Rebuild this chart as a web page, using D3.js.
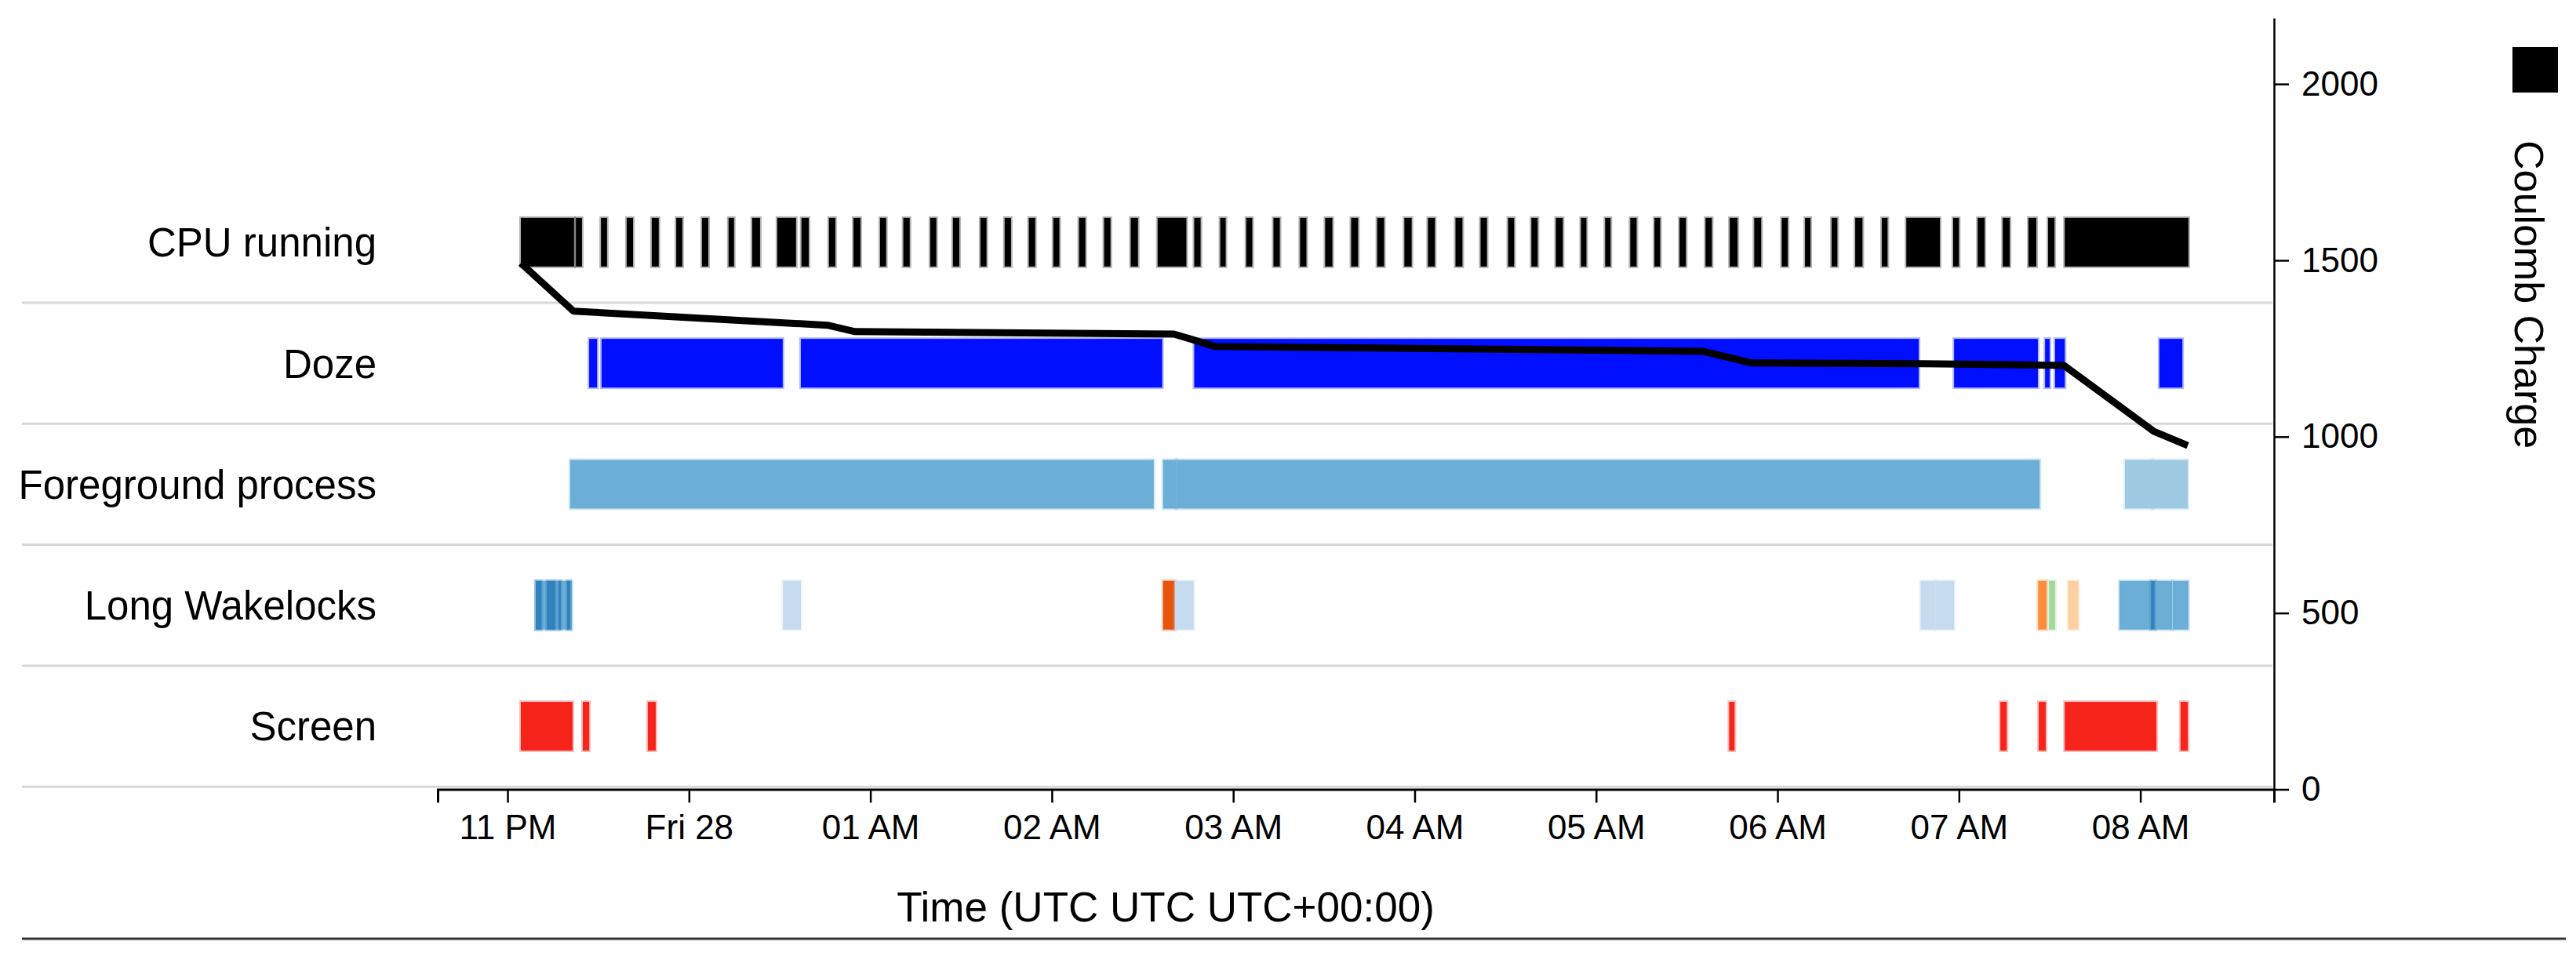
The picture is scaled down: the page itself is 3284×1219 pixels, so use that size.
<!DOCTYPE html>
<html>
<head>
<meta charset="utf-8">
<style>
  body { margin: 0; background: #fff; }
  svg { display: block; font-family: "Liberation Sans", Arial, sans-serif; }
</style>
<script src="https://d3js.org/d3.v7.min.js"></script>
</head>
<body>
<div id="chart"></div>
<script>
// times are minutes after Thu 27 Oct, 11 PM (UTC)
var BASE = Date.UTC(2016, 9, 27, 23, 0, 0);

var rows = ["CPU running", "Doze", "Foreground process", "Long Wakelocks", "Screen"];

var cpuRunning = [[4.4,22.0],[22.6,24.6],[30.9,32.9],[39.4,41.5],[47.7,50.0],[55.8,57.8],[64.3,66.4],[73.1,74.9],
  [80.9,83.5],[89.2,95.4],[97.2,99.6],[106.3,108.4],[114.4,116.7],[123.2,125.2],[130.9,133.0],[139.8,141.8],
  [147.3,149.4],[156.4,158.4],[164.4,166.5],[172.4,174.5],[180.5,182.5],[189.0,191.1],[197.3,199.4],[206.1,208.5],
  [215.0,224.5],[227.1,229.2],[235.7,237.5],[244.3,246.3],[253.3,255.4],[262.1,264.2],[270.4,272.8],[279.0,281.3],
  [287.6,289.9],[296.6,299.0],[304.4,306.7],[313.5,315.8],[321.8,323.9],[330.9,332.9],[338.6,340.7],[346.7,349.0],
  [355.0,356.8],[363.0,364.8],[371.3,373.4],[379.3,381.2],[387.6,389.7],[396.2,398.3],[404.2,406.8],[412.3,414.6],
  [421.4,423.4],[429.1,430.9],[437.9,439.8],[445.7,448.1],[454.5,456.4],[462.6,473.7],[478.1,480.0],[486.2,488.5],
  [494.5,496.8],[503.0,505.6],[509.5,511.6],[515.0,555.9]];

var doze = [[27.0,29.6],[31.1,91.0],[97.0,216.5],[227.1,466.7],[478.4,506.1],[508.5,510.0],[511.8,515.0],[546.3,553.9]];

// [start, end, group]
var foreground = [[20.7,213.7,1],[216.8,221.2,1],[221.2,506.7,1],[534.9,544.0,2],[544.0,555.7,2]];

var wakelocks = [[9.3,21.3,1],[9.3,11.2,0],[13.0,15.8,0],[16.9,17.6,0],[19.7,20.7,0],[91.1,97.0,3],
  [216.8,220.7,4],[220.7,226.9,3],[467.3,472.2,3],[472.2,478.4,3],[506.2,509.0,5],[509.8,511.8,10],
  [516.1,519.5,7],[533.1,543.5,1],[543.5,545.0,0],[545.0,550.5,1],[550.7,555.9,1]];

var screen = [[4.4,21.5],[24.9,27.0],[46.4,49.0],[404.0,405.8],[493.7,495.8],[506.4,508.7],[515.0,545.3],[553.3,555.7]];

var chargeMinutes = [4.4, 21.8, 105.8, 114.9, 220.4, 233.9, 395.2, 411.5, 467.8, 514.7, 544.5, 555.7];
var chargeValues  = [1492, 1356, 1316, 1298, 1291, 1256, 1242, 1209, 1207, 1202, 1015, 975];

var chargeTicks = [0, 500, 1000, 1500, 2000];

var palette = ["#3182bd","#6baed6","#9ecae1","#c6dbef","#e6550d","#fd8d3c","#fdae6b","#fdd0a2",
               "#31a354","#74c476","#a1d99b","#c7e9c0"];

function t(m) { return new Date(BASE + m * 60000); }

var w = 3284, h = 1219;

var svg = d3.select("#chart").append("svg")
    .attr("width", w)
    .attr("height", h);

var x = d3.scaleUtc()
    .domain([t(-23.1), t(584.2)])
    .range([558, 2899]);

var yRow = d3.scaleBand()
    .domain(rows)
    .range([231.7, 1003.2]);

var yCharge = d3.scaleLinear()
    .domain([0, 2187])
    .range([1006.5, 23]);

var barH = 62;

// row separators
svg.append("g").selectAll("line")
    .data(rows)
    .enter().append("line")
    .attr("x1", 28)
    .attr("x2", 2897)
    .attr("y1", function(d) { return yRow(d) + yRow.bandwidth(); })
    .attr("y2", function(d) { return yRow(d) + yRow.bandwidth(); })
    .attr("stroke", "#d8d8d8")
    .attr("stroke-width", 3);

// row labels
svg.append("g").selectAll("text")
    .data(rows)
    .enter().append("text")
    .attr("x", 480)
    .attr("y", function(d) { return yRow(d) + yRow.bandwidth() / 2; })
    .attr("dy", "0.36em")
    .attr("text-anchor", "end")
    .attr("font-size", 51)
    .attr("fill", "#000")
    .text(function(d) { return d; });

function drawRow(row, data, color) {
  svg.append("g").selectAll("rect")
      .data(data)
      .enter().append("rect")
      .attr("x", function(d) { return x(t(d[0])); })
      .attr("width", function(d) { return Math.max(1, x(t(d[1])) - x(t(d[0]))); })
      .attr("y", yRow(row) + (yRow.bandwidth() - barH) / 2)
      .attr("height", barH)
      .attr("fill", color)
      .attr("stroke", color)
      .attr("stroke-opacity", 0.3)
      .attr("stroke-width", 4);
}

drawRow("CPU running", cpuRunning, "#000");
drawRow("Doze", doze, "#000fff");
drawRow("Foreground process", foreground, function(d) { return palette[d[2]]; });
drawRow("Long Wakelocks", wakelocks, function(d) { return palette[d[2]]; });
drawRow("Screen", screen, "#f7241c");

// charge line
var line = d3.line()
    .x(function(d) { return x(t(d[0])); })
    .y(function(d) { return yCharge(d[1]); });

svg.append("path")
    .datum(d3.zip(chargeMinutes, chargeValues))
    .attr("d", line)
    .attr("fill", "none")
    .attr("stroke", "#000")
    .attr("stroke-width", 9)
    .attr("stroke-linejoin", "round");

// x axis
var xAxis = svg.append("g")
    .attr("transform", "translate(0,1006.5)")
    .call(d3.axisBottom(x).ticks(d3.utcHour.every(1)).tickSize(17).tickPadding(15));
xAxis.selectAll("text").attr("font-size", 44).attr("fill", "#000")
    .attr("font-family", "Liberation Sans, Arial, sans-serif");
xAxis.selectAll("line").attr("stroke-width", 2.5);
xAxis.select(".domain").attr("stroke-width", 3);

// charge axis
var yAxis = svg.append("g")
    .attr("transform", "translate(2899,0)")
    .call(d3.axisRight(yCharge).tickValues(chargeTicks).tickFormat(d3.format("d"))
      .tickSize(19).tickPadding(16).tickSizeOuter(0));
yAxis.selectAll("text").attr("font-size", 44).attr("fill", "#000")
    .attr("font-family", "Liberation Sans, Arial, sans-serif");
yAxis.selectAll("line").attr("stroke-width", 2.5);
yAxis.select(".domain").attr("stroke-width", 2.5);

// axis title
svg.append("text")
    .attr("x", 1486)
    .attr("y", 1175)
    .attr("text-anchor", "middle")
    .attr("font-size", 53)
    .text("Time (UTC UTC UTC+00:00)");

// legend
svg.append("rect")
    .attr("x", 3203)
    .attr("y", 60)
    .attr("width", 58)
    .attr("height", 58)
    .attr("fill", "#000");

svg.append("text")
    .attr("transform", "translate(3206,179) rotate(90)")
    .attr("font-size", 52)
    .text("Coulomb Charge");

// bottom rule
svg.append("line")
    .attr("x1", 28)
    .attr("x2", 3271)
    .attr("y1", 1197)
    .attr("y2", 1197)
    .attr("stroke", "#333")
    .attr("stroke-width", 3);
</script>
</body>
</html>
